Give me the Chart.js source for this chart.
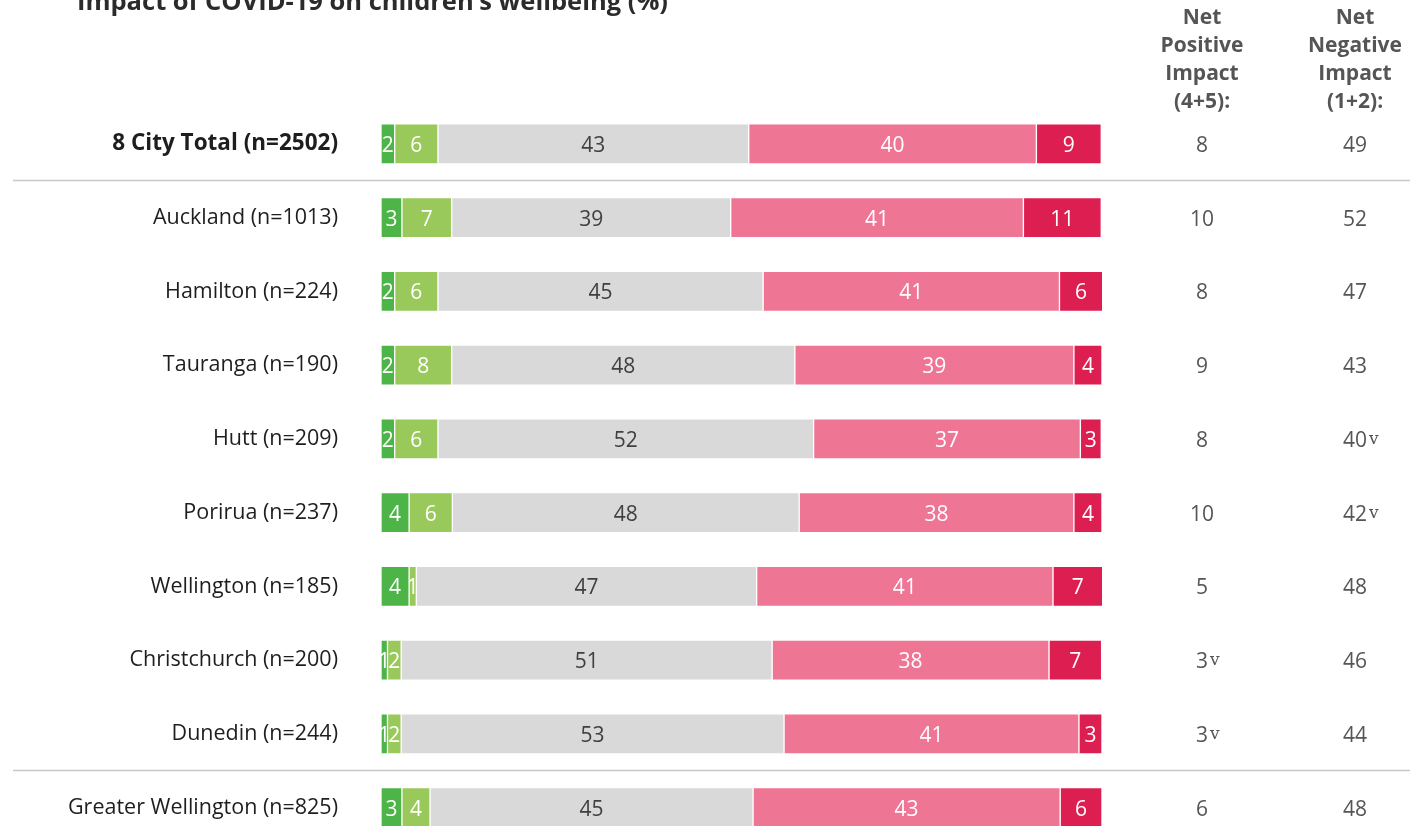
<!DOCTYPE html>
<html>
<head>
<meta charset="utf-8">
<script src="https://cdn.jsdelivr.net/npm/chart.js@4.4.0/dist/chart.umd.min.js"></script>
<style>
    html, body { margin: 0; padding: 0; background: #fff; overflow: hidden; }
    #wrap { position: relative; width: 1421px; height: 826px; overflow: hidden; }
    #wrap canvas { position: absolute; left: 0; top: 0; }
</style>
</head>
<body>
<div id="wrap"><canvas id="chart" width="1421" height="901" style="width:1421px;height:901px"></canvas></div>
<script>
// rows
var cities = ['8 City Total (n=2502)', 'Auckland (n=1013)', 'Hamilton (n=224)', 'Tauranga (n=190)',
    'Hutt (n=209)', 'Porirua (n=237)', 'Wellington (n=185)', 'Christchurch (n=200)',
    'Dunedin (n=244)', 'Greater Wellington (n=825)'];

// 5 point scale, % (labels shown rounded)
var veryPositive  = [1.9, 2.9, 1.9, 1.9, 1.9, 3.9, 3.9, 0.9, 0.9, 2.9];
var positive      = [6.0, 6.9, 6.0, 7.9, 6.0, 6.0, 1.0, 1.9, 1.9, 3.9];
var noImpact      = [43.1, 38.7, 45.1, 47.6, 52.1, 48.1, 47.2, 51.45, 53.1, 44.8];
var negative      = [39.9, 40.6, 41.1, 38.7, 37.0, 38.1, 41.1, 38.4, 40.9, 42.6];
var veryNegative  = [9.0, 10.8, 6.0, 3.9, 2.9, 3.9, 6.9, 7.3, 3.2, 5.8];

// right hand columns
var netPositive = [8, 10, 8, 9, 8, 10, 5, 3, 3, 6];
var netNegative = [49, 52, 47, 43, 40, 42, 48, 46, 44, 48];
var netPositiveLow = [false, false, false, false, false, false, false, true, true, false];
var netNegativeLow = [false, false, false, false, true, true, false, false, false, false];

var FONT = '"Open Sans", Lato, sans-serif';

var segmentLabels = {
    id: 'segmentLabels',
    afterDatasetsDraw(chart) {
        let ctx = chart.ctx;
        ctx.save();
        ctx.font = '21px ' + FONT;
        ctx.textAlign = 'center';
        ctx.textBaseline = 'alphabetic';
        chart.data.datasets.forEach((ds, di) => {
            let meta = chart.getDatasetMeta(di);
            meta.data.forEach((bar, i) => {
                ctx.fillStyle = di == 2 ? '#404040' : '#ffffff';
                ctx.fillText(String(Math.round(ds.data[i])), (bar.x + bar.base) / 2, bar.y + 8);
            });
        });
        ctx.restore();
    }
};

var extras = {
    id: 'extras',
    afterDraw(chart) {
        let ctx = chart.ctx;
        let y = chart.scales.y;
        ctx.save();

        // title (cut at the top like the source)
        let title = 'Impact of COVID-19 on children\u2019s wellbeing (%)';
        ctx.font = 'bold 20px ' + FONT;
        let tSize = 20 * 590 / ctx.measureText(title).width;
        ctx.font = 'bold ' + tSize.toFixed(1) + 'px ' + FONT;
        ctx.fillStyle = '#2b2b2b';
        ctx.textAlign = 'left';
        ctx.textBaseline = 'alphabetic';
        ctx.fillText(title, 77, 10);

        // column headers
        ctx.fillStyle = '#555555';
        ctx.font = 'bold 21px ' + FONT;
        ctx.textAlign = 'center';
        ctx.textBaseline = 'middle';
        let headA = ['Net', 'Positive', 'Impact', '(4+5):'];
        let headB = ['Net', 'Negative', 'Impact', '(1+2):'];
        headA.forEach((t, i) => ctx.fillText(t, 1202, 18.5 + i * 27.7));
        headB.forEach((t, i) => ctx.fillText(t, 1355, 18.5 + i * 27.7));

        // net values
        function net(val, low, cx, base) {
            ctx.font = '21px ' + FONT;
            ctx.textAlign = 'center';
            ctx.textBaseline = 'alphabetic';
            ctx.fillStyle = '#555555';
            ctx.fillText(String(val), cx, base);
            if (low) {
                let w = ctx.measureText(String(val)).width;
                ctx.font = '17px "DejaVu Serif", serif';
                ctx.textAlign = 'left';
                ctx.fillText('v', cx + w / 2 + 2, base - 3);
            }
        }
        cities.forEach((c, i) => {
            let base = y.getPixelForValue(i) + 8;
            net(netPositive[i], netPositiveLow[i], 1202, base);
            net(netNegative[i], netNegativeLow[i], 1355, base);
        });

        // separators after the total and before Greater Wellington
        ctx.strokeStyle = '#c8c8c8';
        ctx.lineWidth = 1.5;
        [0.5, 8.5].forEach(v => {
            let ly = Math.round(y.getPixelForValue(v)) - 0.5;
            ctx.beginPath();
            ctx.moveTo(13, ly);
            ctx.lineTo(1410, ly);
            ctx.stroke();
        });
        ctx.restore();
    }
};

function series(label, data, color) {
    return {
        label: label,
        data: data,
        backgroundColor: color,
        borderColor: 'rgba(255,255,255,0.95)',
        borderWidth: 1,
        borderSkipped: false,
        barThickness: 40
    };
}

var chartCanvas = document.getElementById('chart').getContext('2d');
var impactChart = new Chart(chartCanvas, {
    type: 'bar',
    data: {
        labels: cities,
        datasets: [
            series('Very positive', veryPositive, '#4db548'),
            series('Positive', positive, '#9ac95b'),
            series('No impact', noImpact, '#d9d9d9'),
            series('Negative', negative, '#ef7595'),
            series('Very negative', veryNegative, '#dd1e50')
        ]
    },
    options: {
        indexAxis: 'y',
        responsive: false,
        animation: false,
        layout: {
            padding: { top: 107, bottom: 15, left: 0, right: 319 }
        },
        scales: {
            x: {
                stacked: true,
                min: 0,
                max: 100,
                display: false
            },
            y: {
                stacked: true,
                afterFit: (scale) => { scale.width = 381; },
                grid: { display: false, drawTicks: false },
                border: { display: false },
                ticks: {
                    padding: 43,
                    color: '#1e1e1e',
                    font: (c) => c.index === 0
                        ? { family: FONT, size: 22.5, weight: 'bold' }
                        : { family: FONT, size: 21.5 }
                }
            }
        },
        plugins: {
            legend: { display: false },
            tooltip: { enabled: false },
            title: { display: false }
        }
    },
    plugins: [segmentLabels, extras]
});
</script>
</body>
</html>
